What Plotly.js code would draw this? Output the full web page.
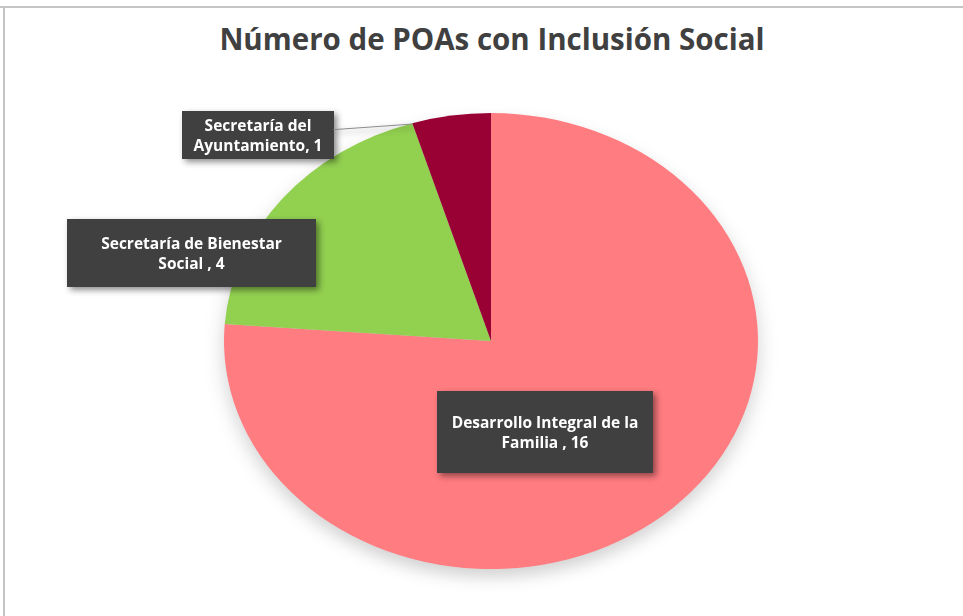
<!DOCTYPE html>
<html>
<head>
<meta charset="utf-8">
<script src="https://cdn.plot.ly/plotly-3.0.1.min.js"></script>
<style>
html,body{margin:0;padding:0;background:#fff;}
#chart{width:963px;height:616px;}
#chart .pielayer{transform:scaleX(1.171);transform-origin:491px 341px;filter:drop-shadow(0px 8px 8px rgba(0,0,0,0.18));}
#chart .annotation{filter:drop-shadow(3px 3px 3px rgba(0,0,0,0.45));}
</style>
</head>
<body>
<div id="chart"></div>
<script>
const title = "Número de POAs con Inclusión Social";
const categories = ["Desarrollo Integral de la Familia ", "Secretaría de Bienestar Social ", "Secretaría del Ayuntamiento"];
const values = [16, 4, 1];
const colors = ["#FF7C80", "#92D050", "#990033"];
const labelLines = [
  ["Desarrollo Integral de la", "Familia , 16"],
  ["Secretaría de Bienestar", "Social , 4"],
  ["Secretaría del", "Ayuntamiento, 1"]
];

// label box placement (pixels): center x, center y, width, height
const boxes = [
  {cx: 545, cy: 432, w: 214, h: 80},
  {cx: 191, cy: 253, w: 247, h: 66},
  {cx: 258, cy: 135, w: 150, h: 46}
];
const W = 963, H = 616;
const px = x => x / W, py = y => 1 - y / H;

const annotations = boxes.map((b, i) => ({
  xref: 'paper', yref: 'paper',
  x: px(b.cx), y: py(b.cy),
  xanchor: 'center', yanchor: 'middle',
  text: labelLines[i].join('<br>'),
  showarrow: false,
  width: b.w - 2, height: b.h - 2,
  bgcolor: '#404040',
  bordercolor: '#404040',
  borderwidth: 1,
  font: {family: '"Open Sans", sans-serif', size: 15.5, color: '#ffffff', weight: 'bold'},
  align: 'center', valign: 'middle'
}));
// leader line for the small slice
Object.assign(annotations[2], {
  showarrow: true, arrowhead: 0, arrowwidth: 1, arrowcolor: '#8c8c8c',
  x: px(413), y: py(124), ax: 258 - 413, ay: 135 - 124
});

const cx = 491, cy = 341, r = 228;
const trace = {
  type: 'pie',
  labels: categories,
  values: values,
  sort: false,
  direction: 'clockwise',
  rotation: 0,
  marker: {colors: colors, line: {width: 0}},
  textinfo: 'none',
  hoverinfo: 'label+value',
  domain: {x: [px(cx - r), px(cx + r)], y: [py(cy + r), py(cy - r)]},
  showlegend: false
};

const layout = {
  width: W, height: H,
  margin: {l: 0, r: 0, t: 0, b: 0},
  paper_bgcolor: '#ffffff',
  title: {
    text: title,
    x: px(492), xanchor: 'center',
    y: py(40), yanchor: 'middle',
    font: {family: '"Open Sans", sans-serif', size: 29.5, color: '#404040', weight: 'bold'}
  },
  showlegend: false,
  annotations: annotations,
  shapes: [
    {type: 'line', xref: 'paper', yref: 'paper', x0: 0, x1: 1, y0: py(7), y1: py(7), line: {color: '#c4c4c4', width: 2}},
    {type: 'line', xref: 'paper', yref: 'paper', x0: px(4), x1: px(4), y0: py(7), y1: 0, line: {color: '#c4c4c4', width: 2}}
  ]
};

Plotly.newPlot('chart', [trace], layout, {displayModeBar: false, staticPlot: true});
</script>
</body>
</html>
